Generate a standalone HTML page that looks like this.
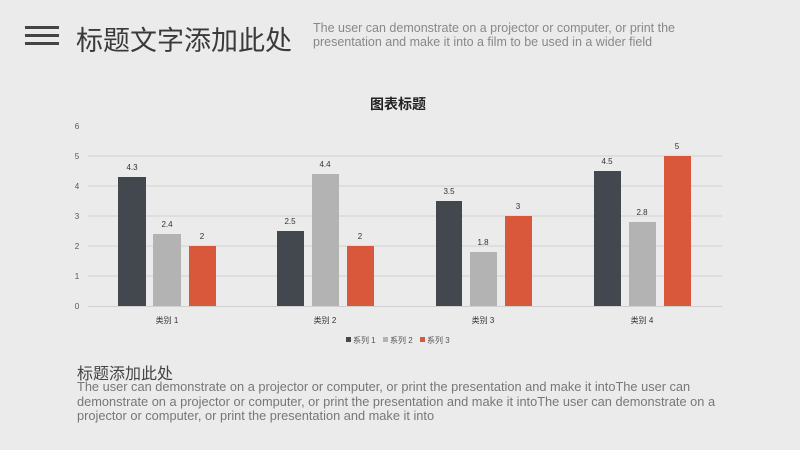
<!DOCTYPE html>
<html><head><meta charset="utf-8"><style>
body{margin:0;width:800px;height:450px;background:#ebebeb;overflow:hidden;position:relative;font-family:"Liberation Sans","Noto Sans CJK SC",sans-serif}
.a{position:absolute;white-space:nowrap}
</style></head><body>
<div class="a" style="left:25px;top:26px;width:34px;height:3px;background:#444"></div>
<div class="a" style="left:25px;top:34px;width:34px;height:3px;background:#444"></div>
<div class="a" style="left:25px;top:42px;width:34px;height:3px;background:#444"></div>
<div class="a" style="left:76px;top:19px;font-size:27px;color:#3a3a3a">标题文字添加此处</div>
<div class="a" style="left:313px;top:21px;font-size:12.5px;line-height:14px;color:#888">The user can demonstrate on a projector or computer, or print the<br>presentation and make it into a film to be used in a wider field</div>
<div class="a" style="left:370px;top:94px;font-size:14px;font-weight:bold;color:#222">图表标题</div>
<svg class="a" style="left:0;top:0" width="800" height="450" font-family="Liberation Sans, Noto Sans CJK SC, sans-serif" font-size="8" fill="#555">
<g stroke="#d0d0d0" stroke-width="1">
<line x1="88" x2="722" y1="156" y2="156"/><line x1="88" x2="722" y1="186" y2="186"/><line x1="88" x2="722" y1="216" y2="216"/><line x1="88" x2="722" y1="246" y2="246"/><line x1="88" x2="722" y1="276" y2="276"/><line x1="88" x2="722" y1="306.5" y2="306.5"/>
</g>
<g text-anchor="middle"><text x="77" y="129">6</text><text x="77" y="159">5</text><text x="77" y="189">4</text><text x="77" y="219">3</text><text x="77" y="249">2</text><text x="77" y="279">1</text><text x="77" y="309">0</text></g>
<g>
<rect x="118" y="177" width="28" height="129" fill="#43484e"/><rect x="153" y="234" width="28" height="72" fill="#b3b3b3"/><rect x="189" y="246" width="27" height="60" fill="#d9583b"/>
<rect x="277" y="231" width="27" height="75" fill="#43484e"/><rect x="312" y="174" width="27" height="132" fill="#b3b3b3"/><rect x="347" y="246" width="27" height="60" fill="#d9583b"/>
<rect x="436" y="201" width="26" height="105" fill="#43484e"/><rect x="470" y="252" width="27" height="54" fill="#b3b3b3"/><rect x="505" y="216" width="27" height="90" fill="#d9583b"/>
<rect x="594" y="171" width="27" height="135" fill="#43484e"/><rect x="629" y="222" width="27" height="84" fill="#b3b3b3"/><rect x="664" y="156" width="27" height="150" fill="#d9583b"/>
</g>
<g text-anchor="middle" fill="#333">
<text x="132" y="170">4.3</text><text x="167" y="227">2.4</text><text x="202" y="239">2</text>
<text x="290" y="224">2.5</text><text x="325" y="167">4.4</text><text x="360" y="239">2</text>
<text x="449" y="194">3.5</text><text x="483" y="245">1.8</text><text x="518" y="209">3</text>
<text x="607" y="164">4.5</text><text x="642" y="215">2.8</text><text x="677" y="149">5</text>
<text x="167" y="323">类别 1</text><text x="325" y="323">类别 2</text><text x="483" y="323">类别 3</text><text x="642" y="323">类别 4</text>
</g>
<rect x="346" y="337" width="5" height="5" fill="#43484e"/><text x="353" y="343">系列 1</text>
<rect x="383" y="337" width="5" height="5" fill="#b3b3b3"/><text x="390" y="343">系列 2</text>
<rect x="420" y="337" width="5" height="5" fill="#d9583b"/><text x="427" y="343">系列 3</text>
</svg>
<div class="a" style="left:77px;top:360px;font-size:16px;color:#444">标题添加此处</div>
<div class="a" style="left:77px;top:380px;font-size:12.8px;line-height:14.5px;color:#777">The user can demonstrate on a projector or computer, or print the presentation and make it intoThe user can<br>demonstrate on a projector or computer, or print the presentation and make it intoThe user can demonstrate on a<br>projector or computer, or print the presentation and make it into</div>
</body></html>
